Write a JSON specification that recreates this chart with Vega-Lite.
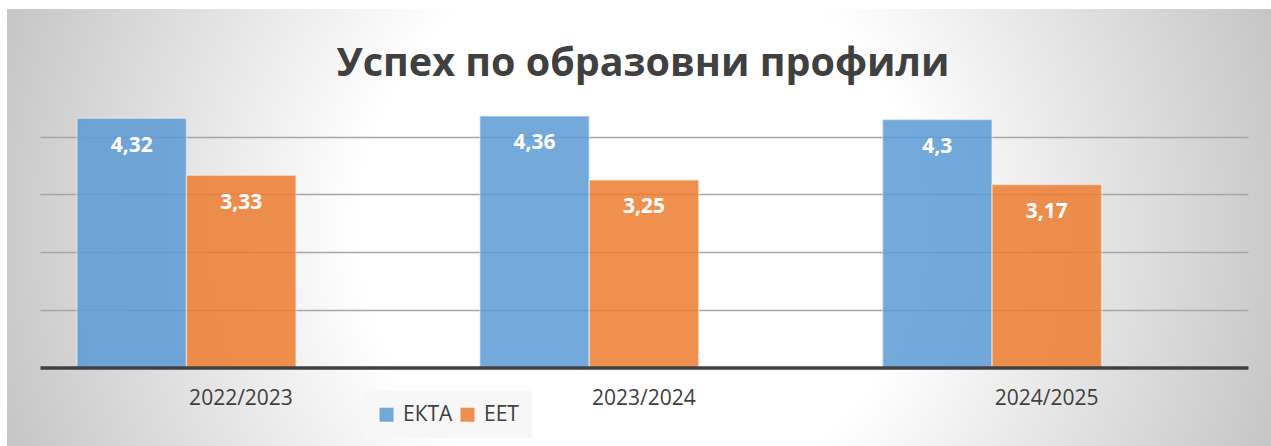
{
  "$schema": "https://vega.github.io/schema/vega-lite/v6.json",
  "width": 1264,
  "height": 437,
  "autosize": {"type": "none"},
  "padding": {"left": 7, "top": 9, "right": 0, "bottom": 0},
  "background": "#ffffff",
  "config": {
    "locale": {"number": {"decimal": ",", "thousands": " ", "grouping": [3], "currency": ["", " лв."]}},
    "font": "Open Sans"
  },
  "view": {
    "stroke": null,
    "fill": {
      "gradient": "radial",
      "x1": 0.5, "y1": 0.5, "r1": 0,
      "x2": 0.5, "y2": 0.5, "r2": 0.6,
      "stops": [
        {"offset": 0, "color": "#ffffff"},
        {"offset": 0.37, "color": "#ffffff"},
        {"offset": 1, "color": "#b8b8b8"}
      ]
    }
  },
  "title": {
    "text": "Успех по образовни профили",
    "font": "Open Sans",
    "fontSize": 39.5,
    "fontWeight": "bold",
    "color": "#404040",
    "anchor": "middle",
    "orient": "top",
    "baseline": "alphabetic",
    "offset": -106,
    "dx": 4
  },
  "data": {
    "values": [
      {"year": "2022/2023", "series": "ЕКТА", "value": 4.32},
      {"year": "2022/2023", "series": "ЕЕТ", "value": 3.33},
      {"year": "2023/2024", "series": "ЕКТА", "value": 4.36},
      {"year": "2023/2024", "series": "ЕЕТ", "value": 3.25},
      {"year": "2024/2025", "series": "ЕКТА", "value": 4.3},
      {"year": "2024/2025", "series": "ЕЕТ", "value": 3.17}
    ]
  },
  "layer": [
    {
      "mark": {"type": "bar", "opacity": 0.85, "stroke": "#ffffff", "strokeOpacity": 0.45, "strokeWidth": 1.5},
      "encoding": {
        "x": {
          "field": "year",
          "type": "nominal",
          "sort": null,
          "scale": {"range": [33, 1241], "paddingInner": 0.4563, "paddingOuter": 0.2277, "align": 0.2017},
          "axis": {
            "title": null,
            "orient": "bottom",
            "offset": -78.5,
            "zindex": 1,
            "domainColor": "#404040",
            "domainWidth": 3.5,
            "domainCap": "butt",
            "ticks": false,
            "labelAngle": 0,
            "labelFont": "Open Sans",
            "labelFontSize": 21,
            "labelColor": "#404040",
            "labelPadding": 20,
            "labelOffset": 54.5
          }
        },
        "xOffset": {"field": "series", "type": "nominal", "sort": ["ЕКТА", "ЕЕТ"], "scale": {"paddingInner": 0}},
        "y": {
          "field": "value",
          "type": "quantitative",
          "scale": {"domain": [-1.3605, 6.213], "nice": false, "zero": false},
          "axis": {
            "title": null,
            "values": [1, 2, 3, 4],
            "grid": true,
            "gridColor": "#a6a6a6",
            "gridWidth": 1.3,
            "labels": false,
            "ticks": false,
            "domain": false
          }
        },
        "y2": {"datum": 0},
        "color": {
          "field": "series",
          "type": "nominal",
          "scale": {"domain": ["ЕКТА", "ЕЕТ"], "range": ["#5b9bd5", "#ed7d31"]},
          "legend": {
            "title": null,
            "orient": "none",
            "legendX": 356,
            "legendY": 382,
            "direction": "horizontal",
            "fillColor": "#f7f7f7",
            "padding": 13,
            "symbolType": "square",
            "symbolSize": 196,
            "symbolOpacity": 0.85,
            "symbolStrokeWidth": 0,
            "labelFont": "Open Sans",
            "labelFontSize": 21,
            "labelColor": "#404040",
            "labelOffset": 6,
            "columnPadding": 4
          }
        }
      }
    },
    {
      "mark": {"type": "text", "dy": 27.5, "baseline": "middle", "align": "center", "font": "Open Sans", "fontSize": 21, "fontWeight": "bold", "color": "#ffffff"},
      "encoding": {
        "x": {"field": "year", "type": "nominal", "sort": null},
        "xOffset": {"field": "series", "type": "nominal", "sort": ["ЕКТА", "ЕЕТ"]},
        "y": {"field": "value", "type": "quantitative"},
        "text": {"field": "value", "type": "quantitative", "format": ".3~r"}
      }
    }
  ]
}
